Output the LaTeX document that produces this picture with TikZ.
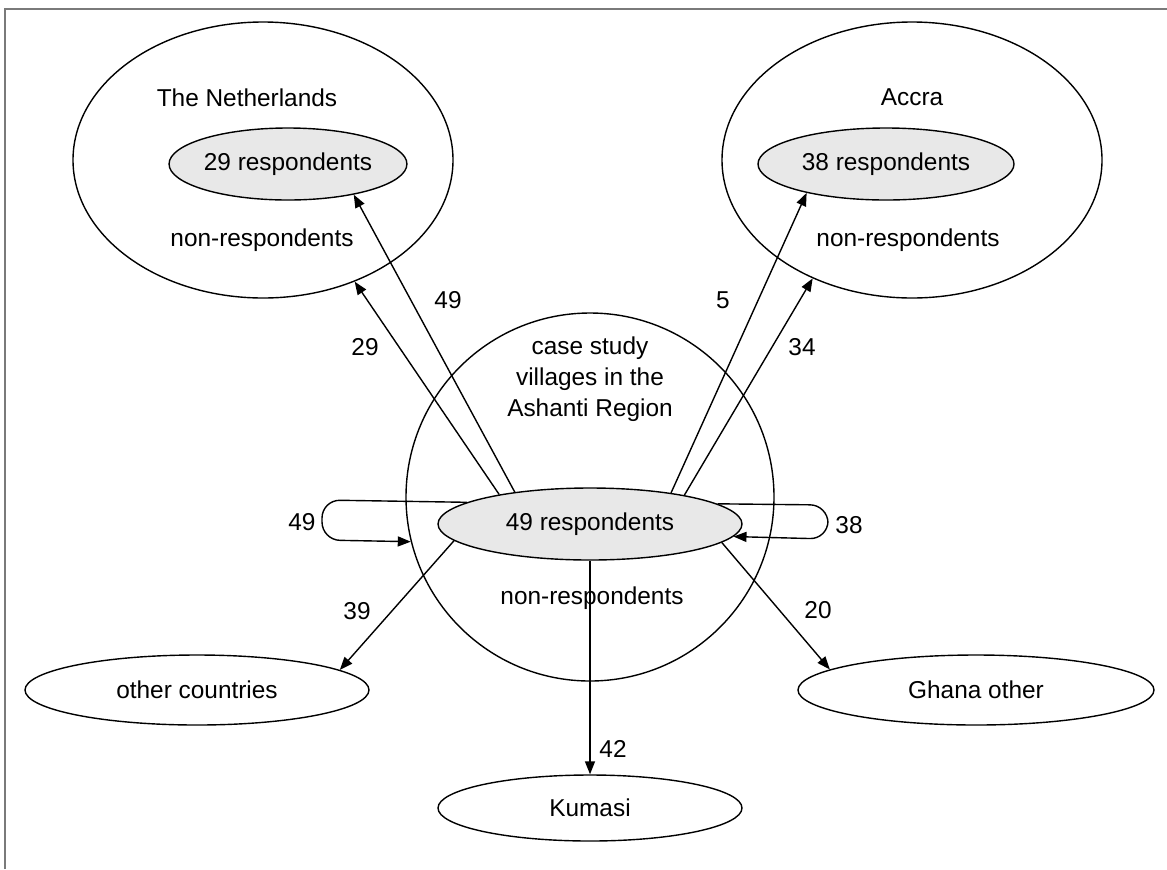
\documentclass[tikz,border=0pt]{standalone}
\usepackage{fontspec}
\setmainfont{Liberation Sans}
\usetikzlibrary{shapes.geometric,arrows.meta}
\definecolor{fillgray}{HTML}{E8E8E8}
\definecolor{framegray}{HTML}{7A7A7A}
\begin{document}
\begin{tikzpicture}[x=0.5pt,y=-0.5pt,
  every node/.style={font=\fontsize{12.2pt}{15.5pt}\selectfont},
  ell/.style={draw=black,line width=0.7pt,ellipse,inner sep=0pt},
  resp/.style={ell,fill=fillgray},
  txt/.style={inner sep=0pt,align=center},
  lbl/.style={inner sep=0pt},
  arr/.style={draw=black,line width=0.7pt,-{Triangle[length=6.5pt,width=5pt]}}
]
\useasboundingbox (0,0) rectangle (1167,869);
\draw[framegray,line width=1pt] (5,869) -- (5,8.5) -- (1167,8.5);

% top ellipses
\node[ell,minimum width=190pt,minimum height=138pt] (neth) at (263,160) {};
\node[resp,minimum width=118pt,minimum height=36pt] (nresp) at (288,164) {29 respondents};
\node[txt] (nname) at (247,98) {The Netherlands};
\node[txt] (nnon) at (262,240) {non-respondents};

\node[ell,minimum width=190pt,minimum height=138pt] (accra) at (912,160) {};
\node[resp,minimum width=128pt,minimum height=36pt] (aresp) at (886,164) {38 respondents};
\node[txt] (aname) at (912,97) {Accra};
\node[txt] (anon) at (908,240) {non-respondents};

% central circle
\node[draw=black,line width=0.7pt,circle,inner sep=0pt,minimum size=184pt] (vill) at (590,497) {};
\node[txt] (vname) at (590,379) {case study\\villages in the\\Ashanti Region};
\node[resp,minimum width=152pt,minimum height=36pt] (vresp) at (590,524) {49 respondents};
\node[txt] (vnon) at (592,598) {non-respondents};

% lower ellipses
\node[ell,minimum width=172pt,minimum height=35pt] (other) at (197,690) {other countries};
\node[ell,minimum width=152pt,minimum height=33pt] (kum) at (590,808) {Kumasi};
\node[ell,minimum width=178pt,minimum height=35pt] (ghana) at (976,690) {Ghana other};

% arrows
\draw[arr] (vresp.157.7) -- (nresp.-25.5);
\draw[arr] (vresp.162) -- (neth.-53.6);
\draw[arr] (vresp.21.3) -- (aresp.-160.2);
\draw[arr] (vresp.17.3) -- (accra.-130);
\draw[arr] (vresp.187.6) -- (other.8.5);
\draw[arr] (vresp.south) -- (kum.north);
\draw[arr] (vresp.-8.8) -- (ghana.172);
\draw[arr,rounded corners=9pt] (vresp.170) -- (322,500) -- (322,540) -- (vill.194);
\draw[arr,rounded corners=9pt] (vresp.9.5) -- (828,505) -- (828,539) -- (vresp.-5.8);

% labels
\node[lbl] (l49a) at (448,300) {49};
\node[lbl] (l29) at (365,347) {29};
\node[lbl] (l5) at (723,300) {5};
\node[lbl] (l34) at (802,347) {34};
\node[lbl] (l49b) at (302,522) {49};
\node[lbl] (l38) at (849,525) {38};
\node[lbl] (l39) at (357,611) {39};
\node[lbl] (l42) at (613,749) {42};
\node[lbl] (l20) at (818,610) {20};
\end{tikzpicture}
\end{document}
